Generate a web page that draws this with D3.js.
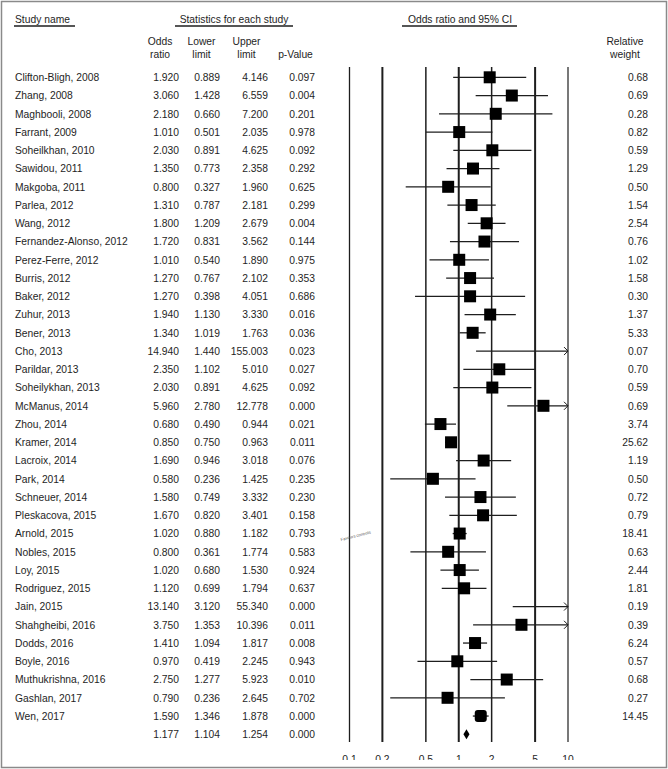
<!DOCTYPE html>
<html>
<head>
<meta charset="utf-8">
<script src="https://cdn.jsdelivr.net/npm/d3@7"></script>
<style>
  html, body { margin: 0; padding: 0; background: #fff; }
  svg { display: block; font-family: "Liberation Sans", Arial, sans-serif; }
</style>
</head>
<body>
<div id="chart"></div>
<script>
// study rows, top to bottom
var studies = ["Clifton-Bligh, 2008", "Zhang, 2008", "Maghbooli, 2008", "Farrant, 2009",
  "Soheilkhan, 2010", "Sawidou, 2011", "Makgoba, 2011", "Parlea, 2012", "Wang, 2012",
  "Fernandez-Alonso, 2012", "Perez-Ferre, 2012", "Burris, 2012", "Baker, 2012",
  "Zuhur, 2013", "Bener, 2013", "Cho, 2013", "Parildar, 2013", "Soheilykhan, 2013",
  "McManus, 2014", "Zhou, 2014", "Kramer, 2014", "Lacroix, 2014", "Park, 2014",
  "Schneuer, 2014", "Pleskacova, 2015", "Arnold, 2015", "Nobles, 2015", "Loy, 2015",
  "Rodriguez, 2015", "Jain, 2015", "Shahgheibi, 2016", "Dodds, 2016", "Boyle, 2016",
  "Muthukrishna, 2016", "Gashlan, 2017", "Wen, 2017"];
var oddsRatio = [1.920, 3.060, 2.180, 1.010, 2.030, 1.350, 0.800, 1.310, 1.800, 1.720,
  1.010, 1.270, 1.270, 1.940, 1.340, 14.940, 2.350, 2.030, 5.960, 0.680, 0.850, 1.690,
  0.580, 1.580, 1.670, 1.020, 0.800, 1.020, 1.120, 13.140, 3.750, 1.410, 0.970, 2.750,
  0.790, 1.590];
var lowerLimit = [0.889, 1.428, 0.660, 0.501, 0.891, 0.773, 0.327, 0.787, 1.209, 0.831,
  0.540, 0.767, 0.398, 1.130, 1.019, 1.440, 1.102, 0.891, 2.780, 0.490, 0.750, 0.946,
  0.236, 0.749, 0.820, 0.880, 0.361, 0.680, 0.699, 3.120, 1.353, 1.094, 0.419, 1.277,
  0.236, 1.346];
var upperLimit = [4.146, 6.559, 7.200, 2.035, 4.625, 2.358, 1.960, 2.181, 2.679, 3.562,
  1.890, 2.102, 4.051, 3.330, 1.763, 155.003, 5.010, 4.625, 12.778, 0.944, 0.963, 3.018,
  1.425, 3.332, 3.401, 1.182, 1.774, 1.530, 1.794, 55.340, 10.396, 1.817, 2.245, 5.923,
  2.645, 1.878];
var pValue = [0.097, 0.004, 0.201, 0.978, 0.092, 0.292, 0.625, 0.299, 0.004, 0.144,
  0.975, 0.353, 0.686, 0.016, 0.036, 0.023, 0.027, 0.092, 0.000, 0.021, 0.011, 0.076,
  0.235, 0.230, 0.158, 0.793, 0.583, 0.924, 0.637, 0.000, 0.011, 0.008, 0.943, 0.010,
  0.702, 0.000];
var relWeight = [0.68, 0.69, 0.28, 0.82, 0.59, 1.29, 0.50, 1.54, 2.54, 0.76, 1.02, 1.58,
  0.30, 1.37, 5.33, 0.07, 0.70, 0.59, 0.69, 3.74, 25.62, 1.19, 0.50, 0.72, 0.79, 18.41,
  0.63, 2.44, 1.81, 0.19, 0.39, 6.24, 0.57, 0.68, 0.27, 14.45];
// pooled estimate
var summary = { or: 1.177, lower: 1.104, upper: 1.254, p: 0.000 };
var tickValues = [0.1, 0.2, 0.5, 1, 2, 5, 10];
var tickWidths = [1.3, 2, 1.5, 2, 1.5, 2, 1.2];

var W = 668, H = 769;
var svg = d3.select("#chart").append("svg").attr("width", W).attr("height", H);
var ink = "#1e1e1e";
var fs = 10.3;

var x = d3.scaleLog().domain([0.1, 10]).range([349.5, 568]);
var y = d3.scaleLinear().domain([0, studies.length]).range([77.3, 734.3]);
var fmt3 = d3.format(".3f"), fmt2 = d3.format(".2f");

// headers
function txt(g, t, px, py, anchor) {
  return g.append("text").attr("x", px).attr("y", py).attr("text-anchor", anchor || "start")
    .attr("font-size", fs).attr("fill", ink).text(t);
}
var head = svg.append("g");
txt(head, "Study name", 15, 23);
txt(head, "Statistics for each study", 234, 23, "middle");
txt(head, "Odds ratio and 95% CI", 460, 23, "middle");
[[14, 75], [175, 293], [402, 517]].forEach(function(s) {
  head.append("line").attr("x1", s[0]).attr("x2", s[1]).attr("y1", 26).attr("y2", 26)
    .attr("stroke", ink).attr("stroke-width", 1.3);
});
var colX = { or: 179, lo: 220, up: 268, p: 315, w: 648 };
[["Odds", "ratio", 160], ["Lower", "limit", 201.5], ["Upper", "limit", 246.5], ["", "p-Value", 295.5],
 ["Relative", "weight", 625]].forEach(function(h) {
  txt(head, h[0], h[2], 45, "middle");
  txt(head, h[1], h[2], 58, "middle");
});

// grid lines and tick labels
var axisG = svg.append("g");
axisG.selectAll("line").data(tickValues).enter().append("line")
  .attr("x1", function(d) { return x(d); }).attr("x2", function(d) { return x(d); })
  .attr("y1", 67).attr("y2", 742)
  .attr("stroke", ink).attr("stroke-width", function(d, i) { return tickWidths[i]; });

svg.append("clipPath").attr("id", "cut").append("rect")
  .attr("x", 0).attr("y", 0).attr("width", W).attr("height", 760);
axisG.append("g").attr("clip-path", "url(#cut)")
  .selectAll("text").data(tickValues).enter().append("text")
  .attr("x", function(d) { return x(d); }).attr("y", 763)
  .attr("text-anchor", "middle").attr("font-size", fs).attr("fill", ink)
  .text(function(d) { return d; });

// rows
var rows = svg.append("g");
studies.forEach(function(name, i) {
  var yy = y(i), by = yy + 3.7;
  txt(rows, name, 15, by);
  txt(rows, fmt3(oddsRatio[i]), colX.or, by, "end");
  txt(rows, fmt3(lowerLimit[i]), colX.lo, by, "end");
  txt(rows, fmt3(upperLimit[i]), colX.up, by, "end");
  txt(rows, fmt3(pValue[i]), colX.p, by, "end");
  txt(rows, fmt2(relWeight[i]), colX.w, by, "end");

  var lo = Math.max(lowerLimit[i], 0.1), hi = Math.min(upperLimit[i], 10);
  rows.append("line").attr("x1", x(lo)).attr("x2", x(hi)).attr("y1", yy).attr("y2", yy)
    .attr("stroke", ink).attr("stroke-width", 1.3);
  if (upperLimit[i] > 10) {
    rows.append("path")
      .attr("d", "M" + (x(10) - 4) + "," + (yy - 4) + "L" + x(10) + "," + yy + "L" + (x(10) - 4) + "," + (yy + 4))
      .attr("fill", "none").attr("stroke", ink).attr("stroke-width", 1);
  }
  if (oddsRatio[i] <= 10) {
    var s = 12;
    rows.append("rect").attr("x", x(oddsRatio[i]) - s / 2).attr("y", yy - s / 2)
      .attr("width", s).attr("height", s).attr("fill", "#000")
      .attr("rx", i === studies.length - 1 ? 3 : 0);
  }
});

// summary row
var sy = y(studies.length), sb = sy + 3.7;
txt(rows, fmt3(summary.or), colX.or, sb, "end");
txt(rows, fmt3(summary.lower), colX.lo, sb, "end");
txt(rows, fmt3(summary.upper), colX.up, sb, "end");
txt(rows, fmt3(summary.p), colX.p, sb, "end");
rows.append("path")
  .attr("d", "M" + x(summary.lower) + "," + sy + "L" + x(summary.or) + "," + (sy - 5) +
    "L" + x(summary.upper) + "," + sy + "L" + x(summary.or) + "," + (sy + 5) + "Z")
  .attr("fill", "#000");

// tiny slanted note left of the plot
svg.append("text").attr("transform", "translate(341,541) rotate(-14)")
  .attr("font-size", 4.2).attr("fill", "#555").text("Favours controls");

// frame
svg.append("rect").attr("x", 1.5).attr("y", 1.5).attr("width", W - 3).attr("height", H - 3)
  .attr("fill", "none").attr("stroke", "#8a8a8a").attr("stroke-width", 1.5);
</script>
</body>
</html>
